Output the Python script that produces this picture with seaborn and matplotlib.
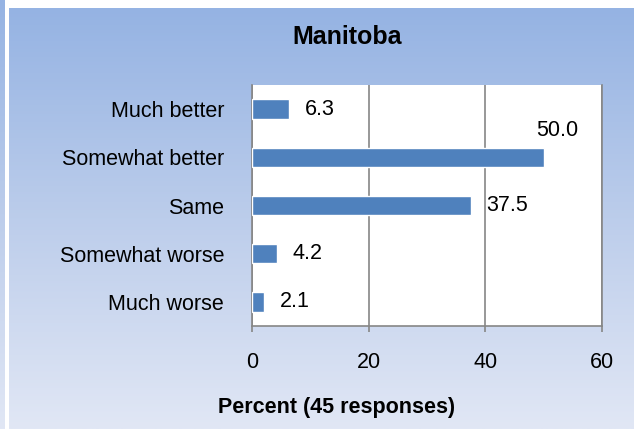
import numpy as np
import pandas as pd
import matplotlib
matplotlib.use("Agg")
import matplotlib.pyplot as plt
from matplotlib.colors import LinearSegmentedColormap
import seaborn as sns

# data
categories = ["Much better", "Somewhat better", "Same", "Somewhat worse", "Much worse"]
percent = [6.3, 50.0, 37.5, 4.2, 2.1]
x_ticks = [0, 20, 40, 60]

df = pd.DataFrame({"category": categories, "percent": percent})

sns.set_style("white")
plt.rcParams["font.family"] = ["Liberation Sans", "DejaVu Sans"]
plt.rcParams["text.color"] = "black"
plt.rcParams["xtick.color"] = "black"
plt.rcParams["ytick.color"] = "black"

W, H = 641, 429
fig = plt.figure(figsize=(W / 100, H / 100), dpi=100)
fig.patch.set_facecolor("white")

# background gradient panels
bg = fig.add_axes([0, 0, 1, 1])
bg.axis("off")
grad = np.linspace(0, 1, 256).reshape(-1, 1)
cmap = LinearSegmentedColormap.from_list("bg", ["#95B3E3", "#BCCDEB", "#E1E7F5"])
bg.imshow(grad, cmap=cmap, aspect="auto", extent=[9, 634, H, 8], zorder=0)
bg.imshow(grad, cmap=cmap, aspect="auto", extent=[0, 5, H, 0], zorder=0)
bg.set_xlim(0, W)
bg.set_ylim(H, 0)

# plot area
ax = fig.add_axes([252 / W, 1 - 326 / H, (602 - 252) / W, (326 - 85) / H])
ax.set_facecolor("white")
sns.barplot(data=df, x="percent", y="category", orient="h", color="#4F81BD",
            width=0.4, saturation=1, ax=ax, zorder=3)

ax.set_xlim(0, 60)
ax.set_ylim(4.5, -0.5)
ax.set_xticks(x_ticks)
ax.set_xticklabels([str(t) for t in x_ticks])
ax.set_xlabel("")
ax.set_ylabel("")

grey = "#868686"
ax.grid(axis="x", color=grey, linewidth=1.2, zorder=1)
ax.grid(axis="y", visible=False)
for side in ["left", "bottom", "right"]:
    ax.spines[side].set_visible(True)
    ax.spines[side].set_color(grey)
    ax.spines[side].set_linewidth(1.2)
ax.spines["top"].set_visible(False)

ax.set_yticks(range(len(categories)))
ax.set_yticklabels(categories)
ax.set_yticks(np.arange(-0.5, len(categories), 1.0), minor=True)
ax.tick_params(axis="y", which="major", length=0, pad=20, labelsize=15.5)
ax.tick_params(axis="y", which="minor", direction="out", length=4, color=grey, width=1.2)
ax.tick_params(axis="x", which="major", direction="out", length=4, color=grey, width=1.2,
               pad=15, labelsize=15.5, bottom=True)

# value labels
for i, v in enumerate(percent):
    if v == 50.0:
        ax.text(48.7, i - 0.56, f"{v:.1f}", va="center", ha="left", fontsize=15.5, zorder=4)
    else:
        ax.text(v + 2.7, i, f"{v:.1f}", va="center", ha="left", fontsize=15.5, zorder=4)

fig.text(347 / W, 1 - 37 / H, "Manitoba", ha="center", va="center",
         fontsize=18, fontweight="bold")
fig.text(337 / W, 1 - 408 / H, "Percent (45 responses)", ha="center", va="center",
         fontsize=15.5, fontweight="bold")

fig.savefig("out.png", dpi=100)
